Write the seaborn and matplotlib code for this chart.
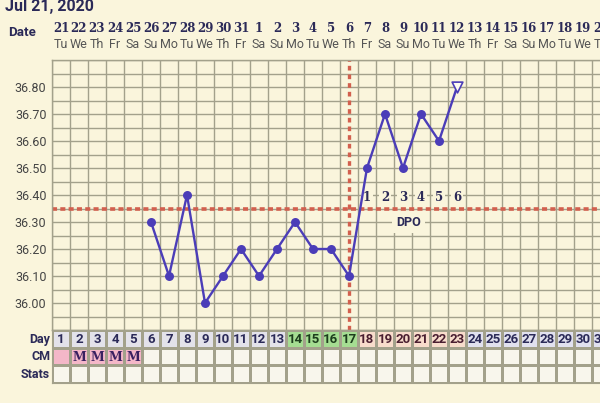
import numpy as np
import pandas as pd
import matplotlib
matplotlib.use("Agg")
import matplotlib.pyplot as plt
import seaborn as sns
from matplotlib.colors import ListedColormap

# ---------------- data ----------------
title = "Jul 21, 2020"
days = list(range(1, 32))
date_nums = [21, 22, 23, 24, 25, 26, 27, 28, 29, 30, 31,
             1, 2, 3, 4, 5, 6, 7, 8, 9, 10, 11, 12, 13, 14, 15, 16, 17, 18, 19, 20]
weekdays = ["Tu", "We", "Th", "Fr", "Sa", "Su", "Mo"] * 4 + ["Tu", "We", "Th"]
temp_days = [6, 7, 8, 9, 10, 11, 12, 13, 14, 15, 16, 17, 18, 19, 20, 21, 22, 23]
temps = [36.30, 36.10, 36.40, 36.00, 36.10, 36.20, 36.10, 36.20, 36.30,
         36.20, 36.20, 36.10, 36.50, 36.70, 36.50, 36.70, 36.60, 36.80]
open_days = [23]                      # last reading drawn as open triangle
coverline = 36.35
ovulation_day = 17
fertile_days = [14, 15, 16, 17]
dpo_days = [18, 19, 20, 21, 22, 23]
dpo_labels = ["1", "2", "3", "4", "5", "6"]
cm_days = [1, 2, 3, 4, 5]
cm_labels = ["", "M", "M", "M", "M"]
ytick_vals = [36.00, 36.10, 36.20, 36.30, 36.40, 36.50, 36.60, 36.70, 36.80]
row_labels = ["Day", "CM", "Stats"]

# ---------------- style ----------------
sns.set_style("white")
plt.rcParams["font.family"] = ["Roboto", "DejaVu Sans"]

BG = "#faf5dc"
GRID = "#a3a18b"
NAVY = "#2b2a58"
LINE = "#4b3db8"
RED = "#d2604e"
SLAB = ["DejaVu Serif"]

W, H = 600, 403
fig = plt.figure(figsize=(6.0, 4.03), dpi=100, facecolor=BG)

x0 = 52
cw = 18.0
left = x0 / W
width = 31 * cw / W
ax = fig.add_axes([left, 1 - 330 / H, width, 270 / H])
ax.set_facecolor(BG)

# grid
ax.set_xlim(0.5, 31.5)
ax.set_ylim(35.90, 36.90)
ax.set_xticks(np.arange(0.5, 32, 1))
ax.set_xticklabels([])
ax.set_yticks(ytick_vals)
ax.set_yticklabels([f"{v:.2f}" for v in ytick_vals])
ax.set_yticks(np.arange(35.90, 36.91, 0.05), minor=True)
ax.grid(True, which="both", color=GRID, lw=1.0)
ax.tick_params(axis="both", which="both", length=0)
ax.tick_params(axis="y", labelsize=9, labelcolor="#444444", pad=4)
for s in ax.spines.values():
    s.set_color(GRID)
    s.set_linewidth(1.0)
ax.set_axisbelow(True)

# coverline + ovulation line
ax.axhline(coverline, color=RED, lw=2.6, ls=(0, (1.4, 0.9)), zorder=2)
ax.axvline(ovulation_day, color=RED, lw=2.4, ls=(0, (1.4, 1.2)), zorder=2)

# DPO labels (below the temperature line)
for d, lab in zip(dpo_days, dpo_labels):
    ax.text(d, 36.39, lab, ha="center", va="center", fontsize=8.5,
            fontweight="bold", family=SLAB, color=NAVY, zorder=3,
            bbox=dict(boxstyle="square,pad=0.2", fc=BG, ec="none"))
ax.text(20.3, 36.30, "DPO", ha="center", va="center", fontsize=9,
        fontweight="bold", color=NAVY, zorder=3,
        bbox=dict(boxstyle="square,pad=0.35", fc=BG, ec="none"))

# temperature line
df = pd.DataFrame({"day": temp_days, "temp": temps})
sns.lineplot(data=df, x="day", y="temp", ax=ax, color=LINE, lw=1.7, zorder=4)
closed = df[~df["day"].isin(open_days)]
opened = df[df["day"].isin(open_days)]
sns.scatterplot(data=closed, x="day", y="temp", ax=ax, color=LINE, s=42,
                edgecolor=LINE, linewidth=0, zorder=5)
sns.scatterplot(data=opened, x="day", y="temp", ax=ax, marker="v", s=60,
                facecolor="#fdfbf0", edgecolor=LINE, linewidth=1.2, zorder=5)
ax.set_xlabel("")
ax.set_ylabel("")

# ---------------- bottom table (heatmap) ----------------
codes = np.zeros((3, 31), dtype=int)
for i, d in enumerate(days):
    if d in fertile_days:
        codes[0, i] = 2
    elif d in dpo_days:
        codes[0, i] = 3
    elif d > max(dpo_days):
        codes[0, i] = 4
    else:
        codes[0, i] = 1
for d in cm_days:
    codes[1, d - 1] = 5
cmap = ListedColormap(["#f8f6ec", "#e3e2ea", "#a5dd92", "#f8dccb", "#e1e1ef", "#f4b7c8"])
tax = fig.add_axes([left, 1 - 383 / H, width, 53 / H])
sns.heatmap(codes, ax=tax, cmap=cmap, vmin=-0.5, vmax=5.5, cbar=False,
            linewidths=1.0, linecolor=GRID, xticklabels=False, yticklabels=False)
for s in tax.spines.values():
    s.set_visible(True)
    s.set_color(GRID)
for i, d in enumerate(days):
    if d in fertile_days:
        tc = "#1c3d1c"
    elif d in dpo_days:
        tc = "#4a1e30"
    else:
        tc = NAVY
    tax.text(i + 0.5, 0.55, str(d), ha="center", va="center", fontsize=9.5,
             fontweight="bold", color=tc)
for d, lab in zip(cm_days, cm_labels):
    tax.text(d - 0.5, 1.55, lab, ha="center", va="center", fontsize=9,
             fontweight="bold", family=SLAB, color="#3a2060")

for j, lab in enumerate(row_labels):
    fig.text(50 / W, 1 - (339 + j * 17.7) / H, lab, ha="right", va="center",
             fontsize=9, fontweight="bold", color=NAVY)

# ---------------- header ----------------
fig.text(5 / W, 1 - 7 / H, title, ha="left", va="center", fontsize=11.5,
         fontweight="bold", color=NAVY)
fig.text(22 / W, 1 - 32 / H, "Date", ha="center", va="center", fontsize=9.5,
         fontweight="bold", color=NAVY)
for i, (dn, wd) in enumerate(zip(date_nums, weekdays)):
    xc = (x0 + cw * (i + 0.5)) / W
    fig.text(xc, 1 - 28 / H, str(dn), ha="center", va="center", fontsize=8.5,
             fontweight="bold", family=SLAB, color=NAVY)
    fig.text(xc, 1 - 45 / H, wd, ha="center", va="center", fontsize=9,
             color="#555555")

fig.savefig("out.png", dpi=100, facecolor=BG)
